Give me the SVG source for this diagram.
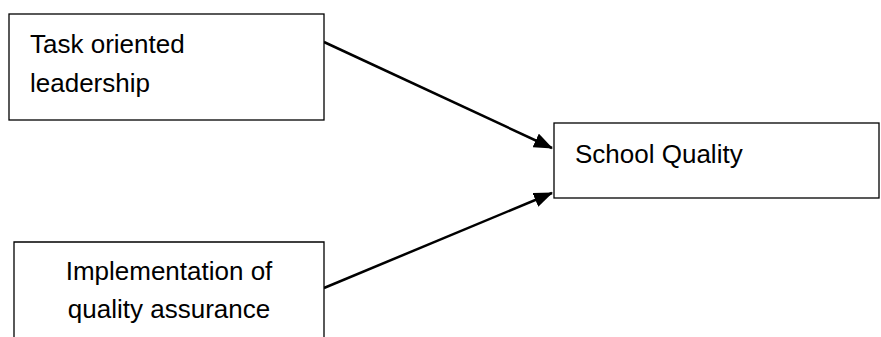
<svg xmlns="http://www.w3.org/2000/svg" width="881" height="337" viewBox="0 0 881 337">
<defs>
<style>
.box{fill:#fff;stroke:#000;stroke-width:1.3}
.t{font-family:"Liberation Sans",Arial,sans-serif;font-size:26px;fill:#000}
.c{stroke:#000;stroke-width:2.5;fill:none}
</style>
<marker id="ah" markerWidth="19" markerHeight="15" refX="18" refY="7.5" orient="auto" markerUnits="userSpaceOnUse">
<path d="M0,0 L19,7.5 L0,15 Z" fill="#000"/>
</marker>
</defs>
<rect width="881" height="337" fill="#fff"/>
<g id="connectors">
<line class="c" x1="324" y1="42" x2="552" y2="148" marker-end="url(#ah)"/>
<line class="c" x1="324" y1="288" x2="552" y2="193" marker-end="url(#ah)"/>
</g>
<g id="task">
<rect class="box" x="9" y="14" width="315" height="106"/>
<text class="t" x="30" y="53">Task oriented</text>
<text class="t" x="30" y="92">leadership</text>
</g>
<g id="school">
<rect class="box" x="554" y="123" width="325" height="75"/>
<text class="t" x="575" y="163">School Quality</text>
</g>
<g id="impl">
<path class="box" d="M14,340 L14,242 L324,242 L324,340"/>
<text class="t" x="169" y="280" text-anchor="middle">Implementation of</text>
<text class="t" x="169" y="318" text-anchor="middle">quality assurance</text>
</g>
</svg>
